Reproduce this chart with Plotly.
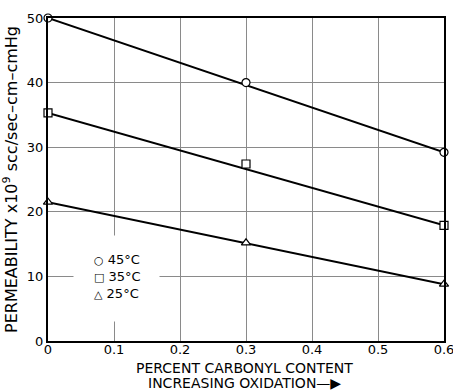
import plotly.graph_objects as go

# Data
carbonyl = [0.0, 0.3, 0.6]
perm_45 = [50.0, 40.0, 29.2]
perm_35 = [35.3, 27.4, 17.9]
perm_25 = [21.5, 15.2, 8.8]

fit_x = [0.0, 0.6]
fit_45 = [50.0, 29.2]
fit_35 = [35.3, 17.9]
fit_25 = [21.5, 8.8]

labels = ["45°C", "35°C", "25°C"]
symbols = ["circle", "square", "triangle-up"]
legend_glyphs = ["\u25CB", "\u25A1", "\u25B3"]

x_ticks = [0, 0.1, 0.2, 0.3, 0.4, 0.5, 0.6]
x_ticktext = ["0", "0.1", "0.2", "0.3", "0.4", "0.5", "0.6"]
y_ticks = [0, 10, 20, 30, 40, 50]

x_title_lines = ["PERCENT CARBONYL CONTENT", "INCREASING OXIDATION\u2014\u25B6"]

FONT = "DejaVu Sans"

fig = go.Figure()

for fy in [fit_45, fit_35, fit_25]:
    fig.add_trace(go.Scatter(x=fit_x, y=fy, mode="lines",
                             line=dict(color="black", width=2),
                             showlegend=False, hoverinfo="skip"))

for vals, lab, sym in zip([perm_45, perm_35, perm_25], labels, symbols):
    fig.add_trace(go.Scatter(
        x=carbonyl, y=vals, mode="markers", name=lab, showlegend=False,
        marker=dict(symbol=sym, size=8, color="white",
                    line=dict(color="black", width=1.2)),
        cliponaxis=False))

# legend: white box (hides gridlines) + text
fig.add_annotation(xref="paper", yref="paper", x=(73 - 48) / 396, y=(341 - 235) / 323,
                   xanchor="left", yanchor="top", text=" ", showarrow=False,
                   width=85, height=85, bgcolor="white", borderpad=0,
                   font=dict(size=2))
legend_text = "<br>".join(f"<span style='font-size:11px'>{g}</span> {l}"
                          for g, l in zip(legend_glyphs, labels))
fig.add_annotation(xref="paper", yref="paper", x=0.11, y=0.2,
                   xanchor="left", yanchor="middle", align="left",
                   text=legend_text, showarrow=False,
                   font=dict(family=FONT, size=13, color="black"))

# x-axis title (two lines)
for i, line in enumerate(x_title_lines):
    fig.add_annotation(xref="paper", yref="paper", x=0.497, y=0,
                       xanchor="center", yanchor="middle",
                       yshift=-(27 + 15 * i), text=line, showarrow=False,
                       font=dict(family=FONT, size=14, color="black"))

fig.update_layout(
    width=453, height=390,
    margin=dict(l=48, r=9, t=18, b=49),
    paper_bgcolor="white", plot_bgcolor="white",
    font=dict(family=FONT, color="black", size=13),
    showlegend=False,
    xaxis=dict(range=[0, 0.6], tickvals=x_ticks, ticktext=x_ticktext,
               showgrid=True, gridcolor="#8a8a8a", gridwidth=1,
               showline=True, linecolor="black", linewidth=2, mirror=True,
               ticks="", zeroline=False, ticklabelstandoff=-5,
               ticklabeloverflow="allow",
               tickfont=dict(size=13), automargin=False),
    yaxis=dict(range=[0, 50], tickvals=y_ticks,
               showgrid=True, gridcolor="#8a8a8a", gridwidth=1,
               showline=True, linecolor="black", linewidth=2, mirror=True,
               ticks="", zeroline=False, ticklabelstandoff=0,
               ticklabeloverflow="allow",
               tickfont=dict(size=13), automargin=False,
               title=dict(text="PERMEABILITY x10<sup>9</sup> scc/sec\u2013cm\u2013cmHg",
                          font=dict(size=16), standoff=6)),
)

fig.write_html("out.html")
